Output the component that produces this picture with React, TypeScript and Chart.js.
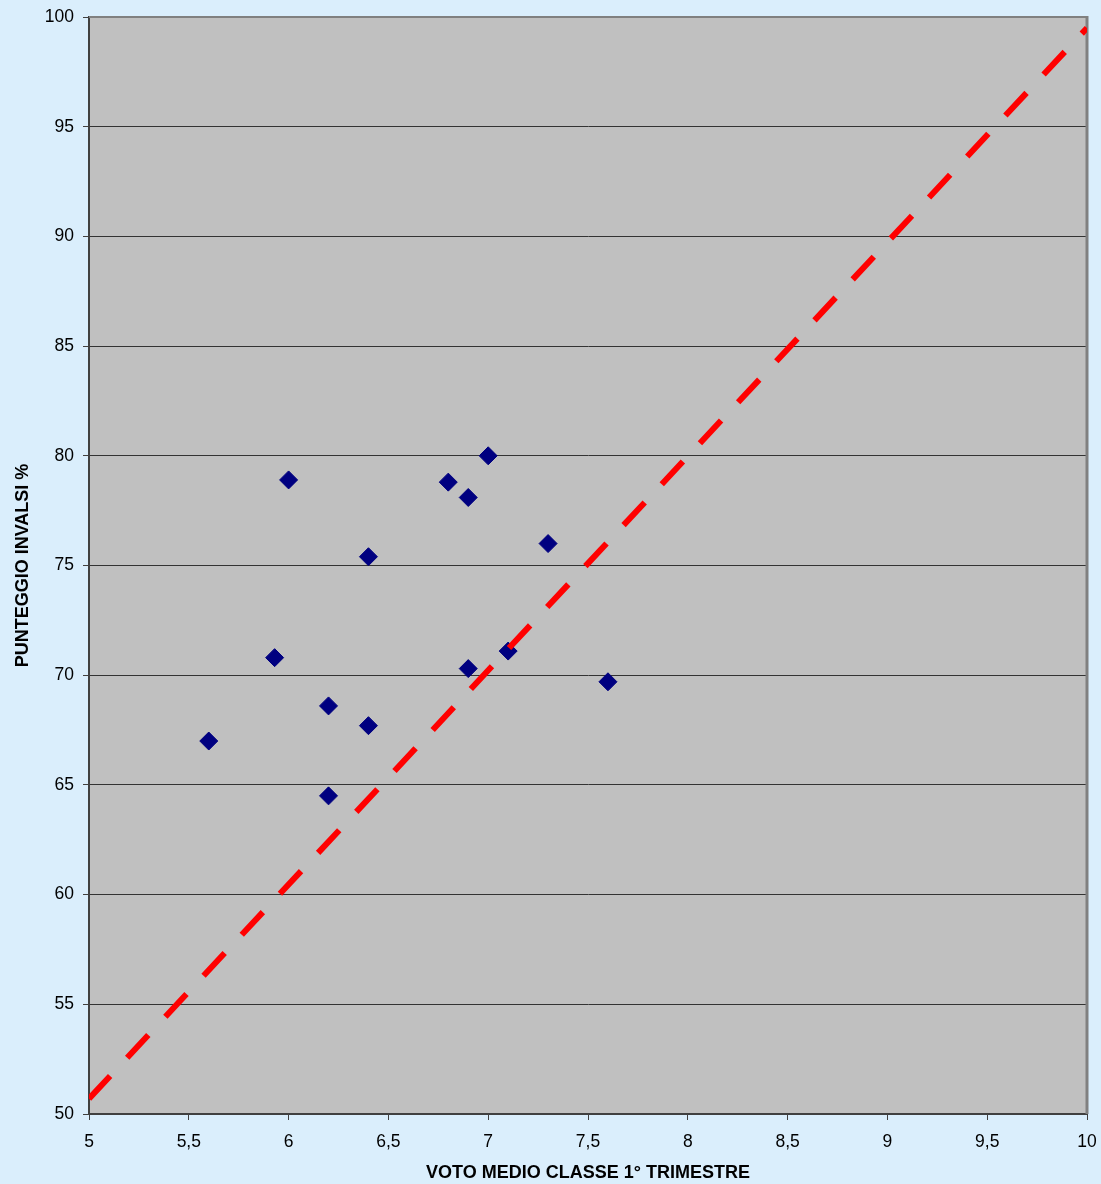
import React, { useEffect, useRef } from "react";
import { Chart, registerables } from "chart.js";

Chart.register(...registerables);

// Data
const votoMedio = [5.6, 5.93, 6.0, 6.2, 6.2, 6.4, 6.4, 6.8, 6.9, 6.9, 7.0, 7.1, 7.3, 7.6];
const punteggio = [67.0, 70.8, 78.9, 68.6, 64.5, 75.4, 67.7, 78.8, 78.1, 70.3, 80.0, 71.1, 76.0, 69.7];
const lineaX = [5, 10];
const lineaY = [50.7, 99.5];

const xTitle = "VOTO MEDIO CLASSE 1° TRIMESTRE";
const yTitle = "PUNTEGGIO INVALSI %";

const FONT = "'Liberation Sans', Arial, sans-serif";

const plotPlugin = {
  id: "plotBg",
  beforeDraw(chart: any) {
    const { ctx, chartArea: a } = chart;
    ctx.save();
    ctx.fillStyle = "#c0c0c0";
    ctx.fillRect(a.left, a.top, a.right - a.left, a.bottom - a.top);
    ctx.restore();
  },
  beforeDatasetsDraw(chart: any) {
    const { ctx, chartArea: a } = chart;
    ctx.save();
    ctx.strokeStyle = "#808080";
    ctx.lineWidth = 2;
    ctx.beginPath();
    ctx.moveTo(a.left, a.top);
    ctx.lineTo(a.right, a.top);
    ctx.stroke();
    ctx.lineWidth = 3;
    ctx.beginPath();
    ctx.moveTo(a.right, a.top - 1);
    ctx.lineTo(a.right, a.bottom);
    ctx.stroke();
    ctx.restore();
  },
};

export default function App() {
  const ref = useRef<HTMLCanvasElement | null>(null);

  useEffect(() => {
    document.body.style.margin = "0";
    document.body.style.background = "#daeefc";
    const canvas = ref.current;
    if (!canvas) return;
    const chart = new Chart(canvas, {
      type: "scatter",
      data: {
        datasets: [
          {
            type: "line",
            label: "linea",
            data: lineaX.map((x, i) => ({ x, y: lineaY[i] })),
            borderColor: "#ff0000",
            borderWidth: 6,
            borderDash: [31, 25],
            borderCapStyle: "butt",
            pointRadius: 0,
            fill: false,
            showLine: true,
          } as any,
          {
            label: "classi",
            data: votoMedio.map((x, i) => ({ x, y: punteggio[i] })),
            pointStyle: "rectRot",
            pointRadius: 9,
            pointHoverRadius: 9,
            backgroundColor: "#000080",
            borderColor: "#000080",
            borderWidth: 1,
            showLine: false,
          },
        ],
      },
      options: {
        responsive: false,
        animation: false,
        events: [],
        layout: { padding: { top: 17, right: 14, left: 0, bottom: 0 } },
        plugins: {
          legend: { display: false },
          tooltip: { enabled: false },
        },
        scales: {
          x: {
            type: "linear",
            min: 5,
            max: 10,
            afterFit: (s: any) => {
              s.height = 70;
              s.paddingLeft = 0;
              s.paddingRight = 0;
            },
            ticks: {
              stepSize: 0.5,
              color: "#000",
              font: { family: FONT, size: 17.5 },
              padding: 12,
              maxRotation: 0,
              callback: (v: any) => String(v).replace(".", ","),
            },
            grid: {
              drawOnChartArea: false,
              drawTicks: true,
              tickLength: 6,
              tickColor: "#404040",
              tickWidth: 1,
            },
            border: { color: "#404040", width: 2 },
            title: {
              display: true,
              text: xTitle,
              color: "#000",
              font: { family: FONT, size: 18, weight: "bold" },
              padding: { top: 0, bottom: 0 },
            },
          },
          y: {
            type: "linear",
            min: 50,
            max: 100,
            afterFit: (s: any) => {
              s.width = 89;
              s.paddingTop = 0;
              s.paddingBottom = 0;
            },
            ticks: {
              stepSize: 5,
              color: "#000",
              font: { family: FONT, size: 17.5 },
              padding: 9,
            },
            grid: {
              color: "#333333",
              lineWidth: 1,
              drawTicks: true,
              tickLength: 6,
              tickColor: "#404040",
            },
            border: { color: "#404040", width: 2 },
            title: {
              display: true,
              text: yTitle,
              color: "#000",
              font: { family: FONT, size: 18, weight: "bold" },
              padding: { top: 12, bottom: 0 },
            },
          },
        },
      },
      plugins: [plotPlugin],
    });
    return () => chart.destroy();
  }, []);

  return (
    <div style={{ width: 1101, height: 1184, background: "#daeefc" }}>
      <canvas ref={ref} width={1101} height={1184} />
    </div>
  );
}
